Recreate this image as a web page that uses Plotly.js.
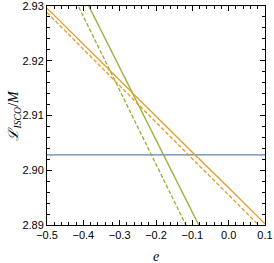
<!DOCTYPE html>
<html><head><meta charset="utf-8">
<script src="https://cdn.plot.ly/plotly-3.0.1.min.js"></script>
<style>html,body{margin:0;padding:0;background:#fff}#c{width:274px;height:263px}</style>
</head><body><div id="c"></div>
<script>
const eVals = [-0.5, -0.4, -0.3, -0.2, -0.1, 0.0, 0.1];
const blueVals = [2.9028, 2.9028, 2.9028, 2.9028, 2.9028, 2.9028, 2.9028];
const orangeSolid = [2.9296, 2.9230, 2.9165, 2.9099, 2.9033, 2.8968, 2.8902];
const orangeDashed = [2.9288, 2.9221, 2.9155, 2.9088, 2.9021, 2.8955, 2.8888];
const greenSolid = [2.9452, 2.9320, 2.9188, 2.9056, 2.8924, 2.8791, 2.8659];
const greenDashed = [2.9416, 2.9281, 2.9146, 2.9011, 2.8876, 2.8741, 2.8606];
const xTicks = [-0.5, -0.4, -0.3, -0.2, -0.1, 0.0, 0.1];
const xTickText = ['\u22120.5','\u22120.4','\u22120.3','\u22120.2','\u22120.1','0.0','0.1'];
const yTicks = [2.89, 2.90, 2.91, 2.92, 2.93];
const yTickText = ['2.89','2.90','2.91','2.92','2.93'];
const xTitle = '<i>e</i>';
const yTitle = '<i>\u2112</i><sub><i>ISCO</i></sub>/<i>M</i>';

const blue = '#5E81B5', orange = '#E19C24', green = '#8FB032';
const mk = (y, color, dash) => ({x: eVals, y: y, mode: 'lines', type: 'scatter',
  line: {color: color, width: 1.3, dash: dash}, hoverinfo: 'skip', showlegend: false});
const data = [
  mk(blueVals, blue, 'solid'),
  mk(greenDashed, green, '4px,2px'),
  mk(greenSolid, green, 'solid'),
  mk(orangeDashed, orange, '4px,2px'),
  mk(orangeSolid, orange, 'solid')
];
const axBase = {
  showgrid: false, zeroline: false, showline: true, linecolor: '#000', linewidth: 1,
  mirror: 'allticks', ticks: 'inside', ticklen: 5, tickwidth: 1, tickcolor: '#000',
  tickfont: {family: 'Liberation Sans, Arial, sans-serif', size: 11, color: '#000'},
  tickmode: 'array', ticklabeloverflow: 'allow'
};
const layout = {
  width: 274, height: 263,
  margin: {l: 47, r: 9, t: 6, b: 38},
  paper_bgcolor: '#fff', plot_bgcolor: '#fff',
  xaxis: Object.assign({}, axBase, {
    range: [-0.500001, 0.100001], tickvals: xTicks, ticktext: xTickText,
    minor: {dtick: 0.02, ticks: 'inside', ticklen: 3, tickcolor: '#000', showgrid: false}
  }),
  yaxis: Object.assign({}, axBase, {
    range: [2.8899999, 2.9300001], tickvals: yTicks, ticktext: yTickText,
    minor: {dtick: 0.002, ticks: 'inside', ticklen: 3, tickcolor: '#000', showgrid: false}
  }),
  annotations: [
    {text: xTitle, xref: 'paper', yref: 'paper', x: 0.5, y: -0.142, xanchor: 'center', yanchor: 'middle',
     showarrow: false, font: {family: 'Liberation Serif, serif', size: 14, color: '#000'}},
    {text: yTitle, xref: 'paper', yref: 'paper', x: -0.151, y: 0.5, xanchor: 'center', yanchor: 'middle',
     textangle: -90, showarrow: false, font: {family: 'Liberation Serif, serif', size: 14, color: '#000'}}
  ]
};
Plotly.newPlot('c', data, layout, {staticPlot: true, displayModeBar: false});
</script></body></html>
